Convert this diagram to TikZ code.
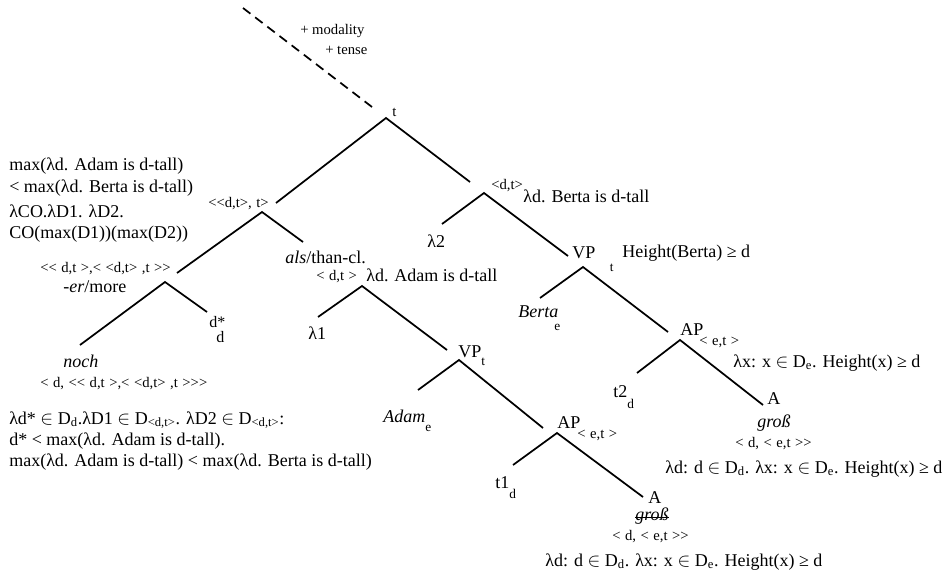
\documentclass[tikz,border=0pt]{standalone}
\usepackage{fontspec}
\setmainfont{Liberation Serif}[Ligatures=TeXOff]
\newcommand{\elem}{\ensuremath{\in}}
\newcommand{\lowsub}[2][7pt]{\raisebox{-#1}{\fontsize{10}{12}\selectfont #2}}
\newcommand{\strikeout}[1]{\setbox0\hbox{#1}\rlap{\rule[0.3ex]{\wd0}{0.6pt}}\box0}
\newcommand{\widespace}{\spaceskip=3.4pt plus 1pt minus 0.5pt\relax}
\tikzset{
  lab/.style={anchor=base west,inner sep=0pt,font=\fontsize{13.5}{16}\selectfont},
  typ/.style={anchor=base west,inner sep=0pt,font=\fontsize{11}{13}\selectfont\widespace},
  note/.style={anchor=base west,inner sep=0pt,font=\fontsize{11}{13}\selectfont},
  mid/.style={anchor=base west,inner sep=0pt,font=\fontsize{12}{14}\selectfont},
  branch/.style={line width=1.3pt}
}
\begin{document}
\begin{tikzpicture}[x=0.75pt,y=-0.75pt]
            \useasboundingbox (0,0) rectangle (944,570);

            % tree points
            \coordinate (top) at (243,8);
            \coordinate (top-end) at (372,107);
            \coordinate (root) at (386,118);
            \coordinate (root-l) at (276,203);
            \coordinate (root-r) at (470,182);
            \coordinate (cmp) at (262,212);
            \coordinate (cmp-l) at (177,273);
            \coordinate (cmp-r) at (303,242);
            \coordinate (deg) at (165,282);
            \coordinate (deg-l) at (80,345);
            \coordinate (deg-r) at (207,312);
            \coordinate (than) at (362,286);
            \coordinate (than-l) at (318,317);
            \coordinate (than-r) at (447,350);
            \coordinate (vpa) at (459,360);
            \coordinate (vpa-l) at (418,390);
            \coordinate (vpa-r) at (543,428);
            \coordinate (apa) at (557,433);
            \coordinate (apa-l) at (513,465);
            \coordinate (apa-r) at (643,497);
            \coordinate (pred) at (484,193);
            \coordinate (pred-l) at (442,224);
            \coordinate (pred-r) at (568,256);
            \coordinate (vpb) at (583,267);
            \coordinate (vpb-l) at (540,298);
            \coordinate (vpb-r) at (668,332);
            \coordinate (apb) at (680,340);
            \coordinate (apb-l) at (637,373);
            \coordinate (apb-r) at (763,405);

            % labels
            \node[note] (modality) at (300,35) {+ modality};
            \node[note] (tense) at (325,55) {+ tense};
            \node[note] (rootlab) at (392,117) {t};

            \node[lab] (cmpden1) at (9,171) {max(λd. Adam is d-tall)};
            \node[lab] (cmpden2) at (9,193) {< max(λd. Berta is d-tall)};
            \node[lab] (cmpden3) at (9,217) {λCO.λD1. λD2.};
            \node[lab] (cmpden4) at (9,238) {CO(max(D1))(max(D2))};
            \node[typ] (cmptype) at (208,207) {<<d,t>, t>};

            \node[typ] (degtype) at (40,272) {<< d,t >,< <d,t> ,t >>};
            \node[lab] (deglab) at (63,292) {-\textit{er}/more};
            \node[mid] (dstar) at (209,327) {d*};
            \node[mid] (dstartype) at (216,342) {d};
            \node[lab] (noch) at (63,367) {\textit{noch}};
            \node[typ] (nochtype) at (40,387) {< d, << d,t >,< <d,t> ,t >>>};
            \node[lab] (nochden1) at (9,424) {λd* \elem\ D\textsubscript{d}.λD1 \elem\ D\textsubscript{<d,t>}. λD2 \elem\ D\textsubscript{<d,t>}:};
            \node[lab] (nochden2) at (9,445) {d* < max(λd. Adam is d-tall).};
            \node[lab] (nochden3) at (9,466) {max(λd. Adam is d-tall) < max(λd. Berta is d-tall)};

            \node[lab] (als) at (285,263) {\textit{als}/than-cl.};
            \node[typ] (alstype) at (316,280) {< d,t >};
            \node[lab] (alsden) at (366,281) {λd. Adam is d-tall};
            \node[lab] (lam1) at (308,339) {λ1};
            \node[lab] (vpalab) at (458,357) {VP\lowsub[6pt]{t}};
            \node[lab] (adam) at (383,422) {\textit{Adam}\lowsub{e}};
            \node[lab] (apalab) at (557,428) {AP};
            \node[typ] (apatype) at (577,438) {< e,t >};
            \node[lab] (t1) at (495,488) {t1\lowsub[8pt]{d}};
            \node[lab] (a1) at (648,503) {A};
            \node[lab] (gross1) at (635,520) {\strikeout{\textit{groß}}};
            \node[typ] (gross1type) at (612,540) {< d, < e,t >>};
            \node[lab] (gross1den) at (545,566) {λd: d \elem\ D\textsubscript{d}. λx: x \elem\ D\textsubscript{e}. Height(x) ≥ d};

            \node[typ] (predtype) at (491,190) {<d,t>};
            \node[lab] (predden) at (523,202) {λd. Berta is d-tall};
            \node[lab] (lam2) at (427,247) {λ2};
            \node[lab] (vpblab) at (572,258) {VP\hspace{11pt}\lowsub[10pt]{t}};
            \node[lab] (vpbden) at (622,257) {Height(Berta) ≥ d};
            \node[lab] (berta) at (518,317) {\textit{Berta}\hspace{-3pt}\lowsub[10pt]{e}};
            \node[lab] (apblab) at (680,335) {AP};
            \node[typ] (apbtype) at (699,345) {< e,t >};
            \node[lab] (apbden) at (733,367) {λx: x \elem\ D\textsubscript{e}. Height(x) ≥ d};
            \node[lab] (t2) at (613,397) {t2\lowsub[8.5pt]{d}};
            \node[lab] (a2) at (767,404) {A};
            \node[lab] (gross2) at (757,427) {\textit{groß}};
            \node[typ] (gross2type) at (735,447) {< d, < e,t >>};
            \node[lab] (gross2den) at (665,473) {λd: d \elem\ D\textsubscript{d}. λx: x \elem\ D\textsubscript{e}. Height(x) ≥ d};

            % branches
            \draw[branch,dash pattern=on 7pt off 4.5pt] (top) -- (top-end);
            \draw[branch] (root-l) -- (root) -- (root-r);
            \draw[branch] (cmp-l) -- (cmp) -- (cmp-r);
            \draw[branch] (deg-l) -- (deg) -- (deg-r);
            \draw[branch] (than-l) -- (than) -- (than-r);
            \draw[branch] (vpa-l) -- (vpa) -- (vpa-r);
            \draw[branch] (apa-l) -- (apa) -- (apa-r);
            \draw[branch] (pred-l) -- (pred) -- (pred-r);
            \draw[branch] (vpb-l) -- (vpb) -- (vpb-r);
            \draw[branch] (apb-l) -- (apb) -- (apb-r);
        \end{tikzpicture}
\end{document}
